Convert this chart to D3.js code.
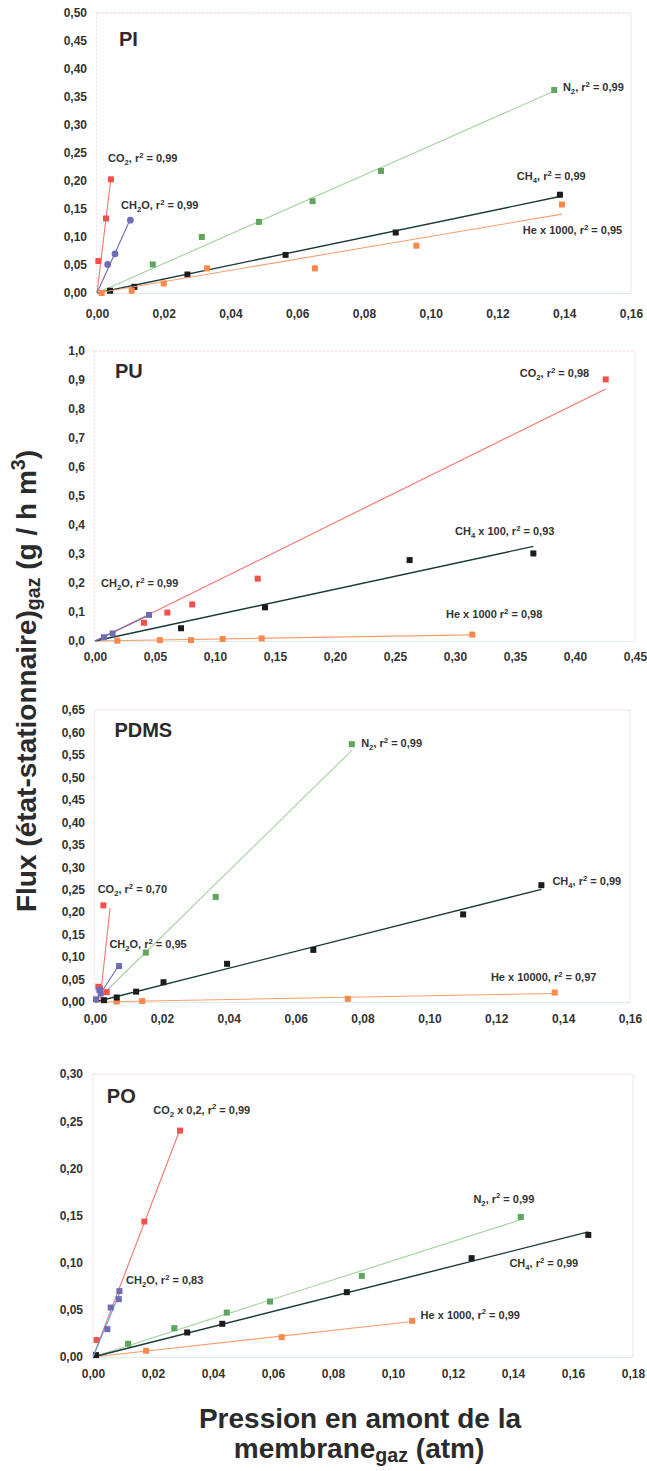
<!DOCTYPE html>
<meta charset="utf-8">
<style>
    body { margin: 0; background: #fff; }
    svg { display: block; font-family: "Liberation Sans", Arial, sans-serif; }
    .tick text { font-size: 12px; font-weight: bold; fill: #333; }
    .lbl { font-size: 11px; font-weight: bold; fill: #333; }
    .ptitle { font-size: 20px; font-weight: bold; fill: #2b2b2b; }
    .axtitle { font-size: 28px; font-weight: bold; fill: #2b2b2b; }
</style>

<svg width="647" height="1471"></svg>
<script src="https://d3js.org/d3.v7.min.js"></script>
<script>
    // data: [pression (atm), flux]
    var PI_CO2  = [[0.0004,0.057],[0.0027,0.133],[0.0042,0.203]];
    var PI_CH2O = [[0.0032,0.051],[0.0054,0.070],[0.0100,0.130]];
    var PI_N2   = [[0.0167,0.051],[0.0314,0.100],[0.0485,0.127],[0.0646,0.164],[0.0851,0.218],[0.1370,0.3625]];
    var PI_CH4  = [[0.0039,0.004],[0.0112,0.011],[0.0271,0.033],[0.0565,0.068],[0.0895,0.108],[0.1387,0.1755]];
    var PI_HE   = [[0.0014,0.000],[0.0104,0.004],[0.0200,0.017],[0.0330,0.044],[0.0653,0.044],[0.0957,0.0845],[0.1393,0.158]];

    var PU_CO2  = [[0.0408,0.063],[0.0603,0.098],[0.0810,0.126],[0.1356,0.215],[0.4256,0.902]];
    var PU_CH2O = [[0.0075,0.013],[0.0147,0.026],[0.0450,0.090]];
    var PU_CH4  = [[0.0717,0.044],[0.1417,0.116],[0.2622,0.279],[0.3653,0.302]];
    var PU_HE   = [[0.0186,0.001],[0.0540,0.003],[0.0800,0.003],[0.1064,0.007],[0.1389,0.009],[0.3144,0.022]];

    var PDMS_CO2     = [[0.0010,0.034],[0.0015,0.030],[0.0025,0.215],[0.0035,0.022]];
    var PDMS_CO2_FIT = [[0.0015,0.004],[0.0045,0.209]];
    var PDMS_CH2O    = [[0.0003,0.006],[0.0013,0.027],[0.0017,0.019],[0.0072,0.080]];
    var PDMS_N2      = [[0.0152,0.110],[0.0361,0.234],[0.0768,0.574]];
    var PDMS_CH4     = [[0.0027,0.004],[0.0065,0.010],[0.0123,0.023],[0.0205,0.044],[0.0395,0.085],[0.0653,0.116],[0.1101,0.195],[0.1335,0.260]];
    var PDMS_HE      = [[0.0065,0.001],[0.0141,0.002],[0.0756,0.007],[0.1375,0.021]];

    var PO_CO2  = [[0.0012,0.018],[0.0171,0.1436],[0.0290,0.240]];
    var PO_CH2O = [[0.0048,0.0295],[0.0059,0.0524],[0.0086,0.0613],[0.0088,0.0698]];
    var PO_N2   = [[0.0117,0.014],[0.0271,0.0306],[0.0446,0.0471],[0.0590,0.0588],[0.0896,0.086],[0.1426,0.1485]];
    var PO_CH4  = [[0.0010,0.002],[0.0314,0.026],[0.0431,0.0352],[0.0846,0.0687],[0.1262,0.1048],[0.1651,0.1294]];
    var PO_HE   = [[0.0177,0.0066],[0.0629,0.021],[0.1064,0.0383]];

    // labels  (_x subscript, ^x superscript)
    var PI_LABELS   = ["CO_2, r^2 = 0,99", "CH_2O, r^2 = 0,99", "N_2, r^2 = 0,99", "CH_4, r^2 = 0,99", "He x 1000, r^2 = 0,95"];
    var PU_LABELS   = ["CO_2, r^2 = 0,98", "CH_2O, r^2 = 0,99", "CH_4 x 100, r^2 = 0,93", "He x 1000 r^2 = 0,98"];
    var PDMS_LABELS = ["CO_2, r^2 = 0,70", "CH_2O, r^2 = 0,95", "N_2, r^2 = 0,99", "CH_4, r^2 = 0,99", "He x 10000, r^2 = 0,97"];
    var PO_LABELS   = ["CO_2 x 0,2, r^2 = 0,99", "CH_2O, r^2 = 0,83", "N_2, r^2 = 0,99", "CH_4, r^2 = 0,99", "He x 1000, r^2 = 0,99"];

    // ticks
    var PI_XTICKS   = [0,0.02,0.04,0.06,0.08,0.10,0.12,0.14,0.16];
    var PI_YTICKS   = [0,0.05,0.10,0.15,0.20,0.25,0.30,0.35,0.40,0.45,0.50];
    var PU_XTICKS   = [0,0.05,0.10,0.15,0.20,0.25,0.30,0.35,0.40,0.45];
    var PU_YTICKS   = [0,0.1,0.2,0.3,0.4,0.5,0.6,0.7,0.8,0.9,1.0];
    var PDMS_XTICKS = [0,0.02,0.04,0.06,0.08,0.10,0.12,0.14,0.16];
    var PDMS_YTICKS = [0,0.05,0.10,0.15,0.20,0.25,0.30,0.35,0.40,0.45,0.50,0.55,0.60,0.65];
    var PO_XTICKS   = [0,0.02,0.04,0.06,0.08,0.10,0.12,0.14,0.16,0.18];
    var PO_YTICKS   = [0,0.05,0.10,0.15,0.20,0.25,0.30];

    var styles = {
        CO2:  {mark: "#f4514c", line: "#f2766e"},
        CH2O: {mark: "#6f6cb6", line: "#6b67b4"},
        N2:   {mark: "#5ea65b", line: "#a2d49c"},
        CH4:  {mark: "#1c1c1c", line: "#173a38"},
        He:   {mark: "#f8894b", line: "#f5a070"}
    };

    var svg = d3.select("svg");

    var panels = [
        {title: "PI", box: [97, 13, 631, 293], xt: PI_XTICKS, yt: PI_YTICKS, yf: ".2f", xf: ".2f", xgap: 16,
         titlePos: [0.0066, 0.441],
         series: [
            {gas: "CO2", d: PI_CO2, lbl: [PI_LABELS[0], 0.0033, 0.234]},
            {gas: "CH2O", d: PI_CH2O, circle: true, lbl: [PI_LABELS[1], 0.0072, 0.150]},
            {gas: "N2", d: PI_N2, lbl: [PI_LABELS[2], 0.1396, 0.361]},
            {gas: "CH4", d: PI_CH4, lbl: [PI_LABELS[3], 0.1258, 0.202]},
            {gas: "He", d: PI_HE, lbl: [PI_LABELS[4], 0.1276, 0.105]}
         ]},
        {title: "PU", box: [95, 351, 635, 641], xt: PU_XTICKS, yt: PU_YTICKS, yf: ".1f", xf: ".2f", xgap: 11,
         titlePos: [0.0167, 0.906],
         series: [
            {gas: "He", d: PU_HE, lbl: [PU_LABELS[3], 0.2925, 0.080]},
            {gas: "CH4", d: PU_CH4, lbl: [PU_LABELS[2], 0.300, 0.366]},
            {gas: "CO2", d: PU_CO2, lbl: [PU_LABELS[0], 0.354, 0.910]},
            {gas: "CH2O", d: PU_CH2O, lbl: [PU_LABELS[1], 0.005, 0.187]}
         ]},
        {title: "PDMS", box: [95, 710, 630, 1002], xt: PDMS_XTICKS, yt: PDMS_YTICKS, yf: ".2f", xf: ".2f", xgap: 12,
         titlePos: [0.0058, 0.591],
         series: [
            {gas: "He", d: PDMS_HE, lbl: [PDMS_LABELS[4], 0.1184, 0.047]},
            {gas: "CH4", d: PDMS_CH4, lbl: [PDMS_LABELS[3], 0.1368, 0.260]},
            {gas: "N2", d: PDMS_N2, lbl: [PDMS_LABELS[2], 0.0796, 0.568]},
            {gas: "CO2", d: PDMS_CO2, fit: PDMS_CO2_FIT, lbl: [PDMS_LABELS[0], 0.0008, 0.243]},
            {gas: "CH2O", d: PDMS_CH2O, lbl: [PDMS_LABELS[1], 0.0043, 0.120]}
         ]},
        {title: "PO", box: [93, 1074, 633, 1357], xt: PO_XTICKS, yt: PO_YTICKS, yf: ".2f", xf: ".2f", xgap: 12,
         titlePos: [0.0046, 0.2696],
         series: [
            {gas: "He", d: PO_HE, lbl: [PO_LABELS[4], 0.1092, 0.0408]},
            {gas: "N2", d: PO_N2, lbl: [PO_LABELS[2], 0.1268, 0.1637]},
            {gas: "CH4", d: PO_CH4, lbl: [PO_LABELS[3], 0.1388, 0.0952]},
            {gas: "CO2", d: PO_CO2, lbl: [PO_LABELS[0], 0.0201, 0.258]},
            {gas: "CH2O", d: PO_CH2O, lineColor: "#58a6da", lbl: [PO_LABELS[1], 0.011, 0.0775]}
         ]}
    ];

    // writes a label with _x / ^x (or _{xx}) as sub / superscripts
    function rich(text, str, size, subShift) {
        var parts = str.split(/([_^]\{[^}]*\}|[_^][A-Za-z0-9])/);
        var shift = 0;
        parts.forEach(function (p) {
            if (!p) return;
            var target = 0, content = p, small = false;
            if (p[0] === "_" || p[0] === "^") {
                small = true;
                target = p[0] === "_" ? size * (subShift || 0.28) : -size * 0.38;
                content = p[1] === "{" ? p.slice(2, -1) : p.slice(1);
            }
            var t = text.append("tspan").attr("dy", target - shift).text(content);
            if (small) t.attr("font-size", (size * 0.7) + "px");
            shift = target;
        });
    }

    function fmt(f) {
        var g = d3.format(f);
        return function (v) { return g(v).replace(".", ","); };
    }

    panels.forEach(function (p) {
        var b = p.box;
        var x = d3.scaleLinear().domain([0, d3.max(p.xt)]).range([b[0], b[2]]);
        var y = d3.scaleLinear().domain([0, d3.max(p.yt)]).range([b[3], b[1]]);
        var g = svg.append("g");

        // faint frame
        g.append("line").attr("x1", b[0]).attr("x2", b[2]).attr("y1", b[1]).attr("y2", b[1])
            .attr("stroke", "#f3d6e0").attr("stroke-width", 1.2).attr("stroke-dasharray", "3,1");
        g.append("line").attr("x1", b[2]).attr("x2", b[2]).attr("y1", b[1]).attr("y2", b[3])
            .attr("stroke", "#f2e6ec").attr("stroke-width", 1);
        g.append("line").attr("x1", b[0]).attr("x2", b[2]).attr("y1", b[3] + 0.5).attr("y2", b[3] + 0.5)
            .attr("stroke", "#e2ece6").attr("stroke-width", 1.2);
        g.append("line").attr("x1", b[0] - 0.5).attr("x2", b[0] - 0.5).attr("y1", b[1]).attr("y2", b[3])
            .attr("stroke", "#f1dfe6").attr("stroke-width", 1.2).attr("stroke-dasharray", "2,2");

        var ya = g.append("g").attr("transform", "translate(" + b[0] + ",0)")
            .call(d3.axisLeft(y).tickValues(p.yt).tickFormat(fmt(p.yf)).tickSize(0).tickPadding(10));
        ya.select(".domain").remove();

        var xa = g.append("g").attr("transform", "translate(0," + b[3] + ")")
            .call(d3.axisBottom(x).tickValues(p.xt).tickFormat(fmt(p.xf)).tickSize(0).tickPadding(p.xgap));
        xa.select(".domain").remove();

        g.append("text").attr("class", "ptitle")
            .attr("x", x(p.titlePos[0])).attr("y", y(p.titlePos[1])).text(p.title);

        var line = d3.line().x(function (d) { return x(d[0]); }).y(function (d) { return y(d[1]); });

        p.series.forEach(function (s) {
            var st = styles[s.gas];
            var fitPts = s.fit;
            if (!fitPts) {
                // least squares through the origin, over the measured range
                var sxy = d3.sum(s.d, function (d) { return d[0] * d[1]; });
                var sxx = d3.sum(s.d, function (d) { return d[0] * d[0]; });
                var k = sxy / sxx, xm = d3.max(s.d, function (d) { return d[0]; });
                fitPts = [[0, 0], [xm, k * xm]];
            }
            g.append("path").datum(fitPts).attr("d", line).attr("fill", "none")
                .attr("stroke", s.lineColor || st.line)
                .attr("stroke-width", s.gas === "CH4" ? 1.4 : 1.1);

            if (s.circle) {
                g.selectAll(null).data(s.d).enter().append("circle")
                    .attr("cx", function (d) { return x(d[0]); })
                    .attr("cy", function (d) { return y(d[1]); })
                    .attr("r", 3.4).attr("fill", st.mark);
            } else {
                g.selectAll(null).data(s.d).enter().append("rect")
                    .attr("x", function (d) { return x(d[0]) - 3; })
                    .attr("y", function (d) { return y(d[1]) - 3; })
                    .attr("width", 6).attr("height", 6).attr("fill", st.mark);
            }

            var t = g.append("text").attr("class", "lbl")
                .attr("x", x(s.lbl[1])).attr("y", y(s.lbl[2]));
            rich(t, s.lbl[0], 11);
        });
    });

    // axis titles
    var yt = svg.append("text").attr("class", "axtitle")
        .attr("text-anchor", "middle")
        .attr("transform", "translate(36,681) rotate(-90)");
    rich(yt, "Flux (état-stationnaire)_{gaz} (g / h m^3)", 28, 0.16);

    var xt1 = svg.append("text").attr("class", "axtitle").attr("text-anchor", "middle")
        .attr("x", 360).attr("y", 1428);
    rich(xt1, "Pression en amont de la", 28);
    var xt2 = svg.append("text").attr("class", "axtitle").attr("text-anchor", "middle")
        .attr("x", 359).attr("y", 1458);
    rich(xt2, "membrane_{gaz} (atm)", 28, 0.16);
</script>
